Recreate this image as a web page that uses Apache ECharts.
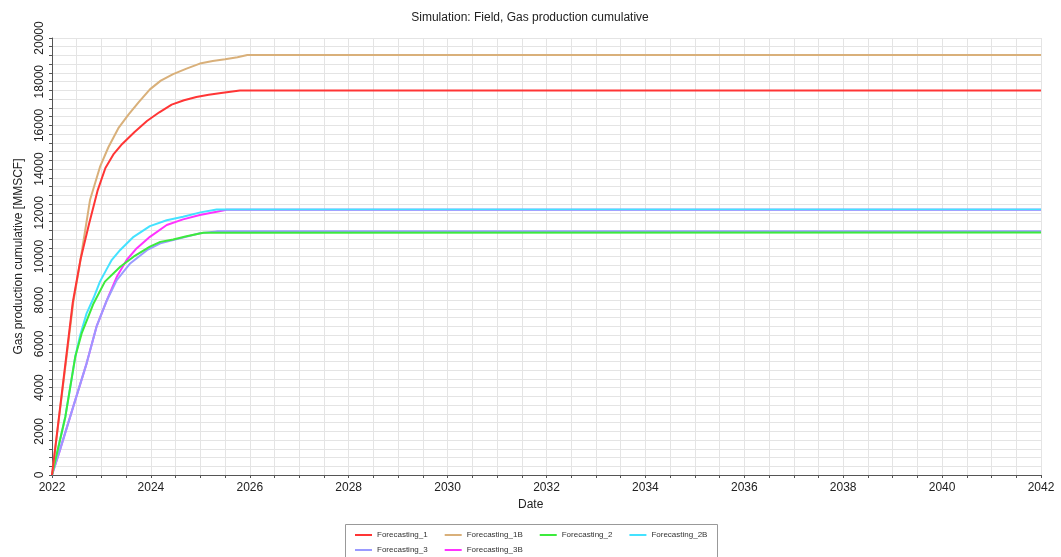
<!DOCTYPE html>
<html><head><meta charset="utf-8">
<script src="https://cdn.jsdelivr.net/npm/echarts@6/dist/echarts.min.js"></script>
<style>html,body{margin:0;padding:0;background:#fff}#c{width:1061px;height:557px}</style>
</head><body><div id="c"></div>
<script>
const seriesNames = ['Forecasting_1','Forecasting_1B','Forecasting_2','Forecasting_2B','Forecasting_3','Forecasting_3B'];
const seriesColors = ['#FF3535','#D9B07A','#3CEB3C','#44E2FF','#9A9AFF','#FF33FF'];

const yearsF1  = [2022,2022.42,2022.58,2022.75,2022.92,2023.08,2023.25,2023.42,2023.67,2023.92,2024.17,2024.42,2024.67,2024.92,2025.17,2025.42,2025.8,2042];
const valuesF1 = [0,7900,9900,11500,13000,14050,14700,15150,15700,16200,16600,16950,17150,17300,17400,17480,17600,17600];

const yearsF1B  = [2022,2022.43,2022.57,2022.77,2022.97,2023.14,2023.35,2023.55,2023.75,2023.98,2024.2,2024.45,2024.72,2024.99,2025.25,2025.5,2025.75,2025.95,2042];
const valuesF1B = [0,7900,9760,12600,14100,15000,15900,16500,17050,17650,18050,18350,18600,18830,18950,19030,19120,19220,19220];

const yearsF2  = [2022,2022.27,2022.47,2022.6,2022.84,2023.07,2023.38,2023.65,2023.98,2024.19,2024.45,2024.72,2025.06,2042];
const valuesF2 = [0,2670,5410,6480,7850,8850,9530,9990,10450,10670,10780,10930,11090,11100];

const yearsF2B  = [2022,2022.27,2022.47,2022.57,2022.7,2022.84,2022.97,2023.1,2023.21,2023.38,2023.65,2023.98,2024.32,2024.65,2025.0,2025.33,2042];
const valuesF2B = [0,2670,5410,6400,7400,8100,8850,9400,9850,10300,10900,11390,11660,11820,12020,12150,12150];

const yearsF3  = [2022,2022.16,2022.43,2022.7,2022.9,2023.11,2023.31,2023.58,2023.92,2024.19,2024.59,2024.99,2025.33,2042];
const valuesF3 = [0,1140,3130,5110,6790,8000,8920,9680,10290,10600,10830,11060,11150,11150];

const yearsF3B  = [2022,2022.16,2022.43,2022.7,2022.9,2023.11,2023.31,2023.51,2023.71,2023.98,2024.32,2024.65,2024.99,2025.33,2025.53,2042];
const valuesF3B = [0,1140,3130,5110,6790,8000,9070,9840,10370,10900,11440,11700,11900,12050,12140,12140];

const allYears = [yearsF1,yearsF1B,yearsF2,yearsF2B,yearsF3,yearsF3B];
const allValues = [valuesF1,valuesF1B,valuesF2,valuesF2B,valuesF3,valuesF3B];

const FONT = 'Liberation Sans, Arial, sans-serif';
const chart = echarts.init(document.getElementById('c'));
const series = seriesNames.map((n,i)=>({
  name:n, type:'line', symbol:'none', z: 10 - i,
  data: allYears[i].map((x,k)=>[x, allValues[i][k]]),
  lineStyle:{width:2,color:seriesColors[i]}, itemStyle:{color:seriesColors[i]}
}));
const legendCommon = {left:355,padding:0,icon:'rect',itemWidth:17,itemHeight:2,itemGap:17,
  textStyle:{fontSize:8,color:'#333',fontFamily:FONT}};
chart.setOption({
  animation:false,
  backgroundColor:'#fff',
  textStyle:{fontFamily:FONT},
  title:{text:'Simulation: Field, Gas production cumulative', left:530, textAlign:'center', top:12, padding:0,
    textStyle:{fontSize:12,fontWeight:'normal',color:'#222',fontFamily:FONT}},
  grid:{left:52,right:20,top:38,bottom:82,containLabel:false},
  graphic:[{type:'rect',shape:{x:345.5,y:524.5,width:372,height:40},style:{fill:'none',stroke:'#999',lineWidth:1},silent:true},
    {type:'text',left:518,top:499,style:{text:'Date',font:'12px '+FONT,fill:'#222'}}],
  legend:[
    Object.assign({data:seriesNames.slice(0,4),top:531}, legendCommon),
    Object.assign({data:seriesNames.slice(4),top:546}, legendCommon)
  ],
  xAxis:{type:'value',min:2022,max:2042,interval:0.5,
    axisLine:{lineStyle:{color:'#555',width:1}},
    axisTick:{show:true,length:3,lineStyle:{color:'#555'}},
    axisLabel:{fontSize:12,color:'#222',margin:7,showMaxLabel:true,showMinLabel:true,
      formatter:v=>(Math.abs(v-Math.round(v))<1e-6 && Math.round(v)%2===0)?String(Math.round(v)):''},
    splitLine:{show:true,lineStyle:{color:'#e4e4e4',width:1}}},
  yAxis:{type:'value',min:0,max:20000,interval:400,
    name:'Gas production cumulative [MMSCF]',nameLocation:'middle',nameGap:27,nameRotate:90,
    nameTextStyle:{fontSize:12,color:'#222',fontFamily:FONT},
    axisLine:{show:true,lineStyle:{color:'#555',width:1}},
    axisTick:{show:true,length:3,lineStyle:{color:'#555'}},
    axisLabel:{fontSize:12,color:'#222',rotate:90,margin:6,
      formatter:v=>(Math.round(v)%2000===0)?String(Math.round(v)):''},
    splitLine:{show:true,lineStyle:{color:'#e4e4e4',width:1}}},
  series:series
});
</script></body></html>
